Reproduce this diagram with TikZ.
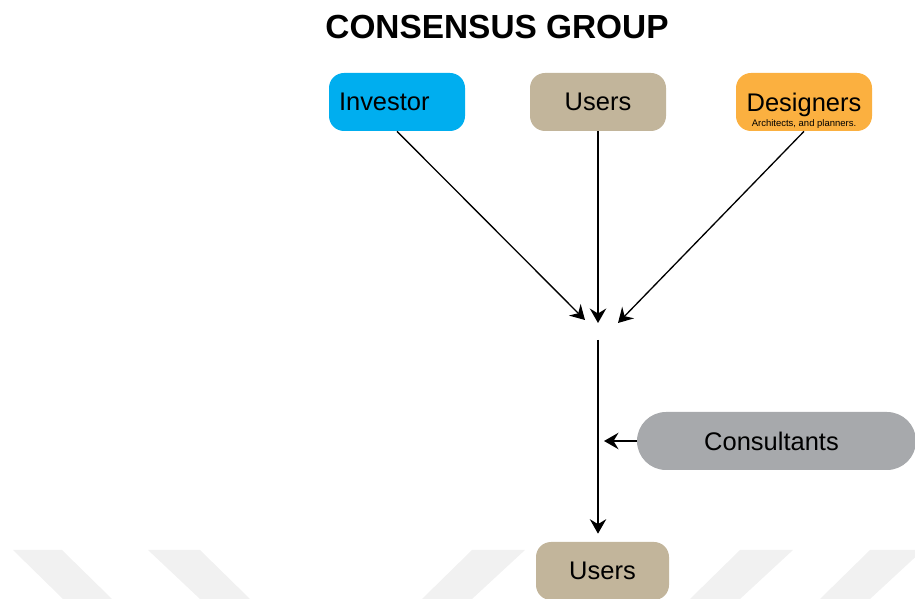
\documentclass[tikz,border=0pt]{standalone}
\usepackage{fontspec}
\setmainfont{Liberation Sans}
\usetikzlibrary{positioning}
\usetikzlibrary{arrows.meta}
\definecolor{investorblue}{HTML}{00AEEF}
\definecolor{usertan}{HTML}{C2B59B}
\definecolor{designorange}{HTML}{FBB040}
\definecolor{consultgray}{HTML}{A7A9AC}
\definecolor{markgray}{HTML}{F1F1F1}

\begin{document}
\begin{tikzpicture}[
  box/.style={rounded corners=0.3cm, minimum width=2.72cm, minimum height=1.16cm, inner sep=0pt, text depth=0pt, font=\fontsize{14.5}{17}\selectfont},
  flow/.style={-{Stealth[length=2.9mm,width=3.3mm,inset=1mm]}, line width=0.75pt}
]
\useasboundingbox (0,0) rectangle (18.3,11.98);

% watermark stripes
\begin{scope}
\clip (0,0) rectangle (18.3,11.98);
\fill[markgray] (0.26,0.98)--(1.24,0.98)--(2.24,0)--(1.26,0)--cycle;
\fill[markgray] (2.96,0.98)--(4.00,0.98)--(5.00,0)--(4.00,0)--cycle;
\fill[markgray] (9.44,0.98)--(10.50,0.98)--(9.44,0)--(8.44,0)--cycle;
\fill[markgray] (14.80,0.98)--(15.86,0.98)--(14.80,0)--(13.80,0)--cycle;
\fill[markgray] (17.40,0.98)--(18.46,0.98)--(17.40,0)--(16.40,0)--cycle;
\end{scope}

% title
\node (title) at (9.94,11.44) {\fontsize{19}{23}\selectfont\bfseries CONSENSUS GROUP};

% boxes
\node[box, fill=investorblue, text width=2.32cm, align=left, inner xsep=0.2cm] (inv) at (7.94,9.94) {Investor};
\node[box, fill=usertan] (usr) at (11.96,9.94) {Users};
\node[box, fill=designorange] (dsg) at (16.08,9.94) {Designers};
\node[font=\fontsize{5.4}{6}\selectfont, inner sep=0pt, above=0.05cm of dsg.south] (dsgsub) {Architects, and planners.};

\node[box, fill=consultgray, rounded corners=0.58cm, minimum width=5.58cm] (cns) at (15.53,3.16) {Consultants\hspace*{0.2cm}};
\node[box, fill=usertan, minimum width=2.66cm] (usrb) at (12.05,0.56) {Users};

% arrow ends
\coordinate (tipL) at (11.70,5.58);
\coordinate (tipM) at (11.96,5.52);
\coordinate (tipR) at (12.36,5.52);
\coordinate (stem) at (11.96,5.18);
\coordinate (tipC) at (12.08,3.16);

% arrows
\draw[flow] (inv.south) -- (tipL);
\draw[flow] (usr.south) -- (tipM);
\draw[flow] (dsg.south) -- (tipR);
\draw[flow, shorten >=0.16cm] (stem) -- (stem |- usrb.north);
\draw[flow] (cns.west) -- (tipC);

\end{tikzpicture}
\end{document}
